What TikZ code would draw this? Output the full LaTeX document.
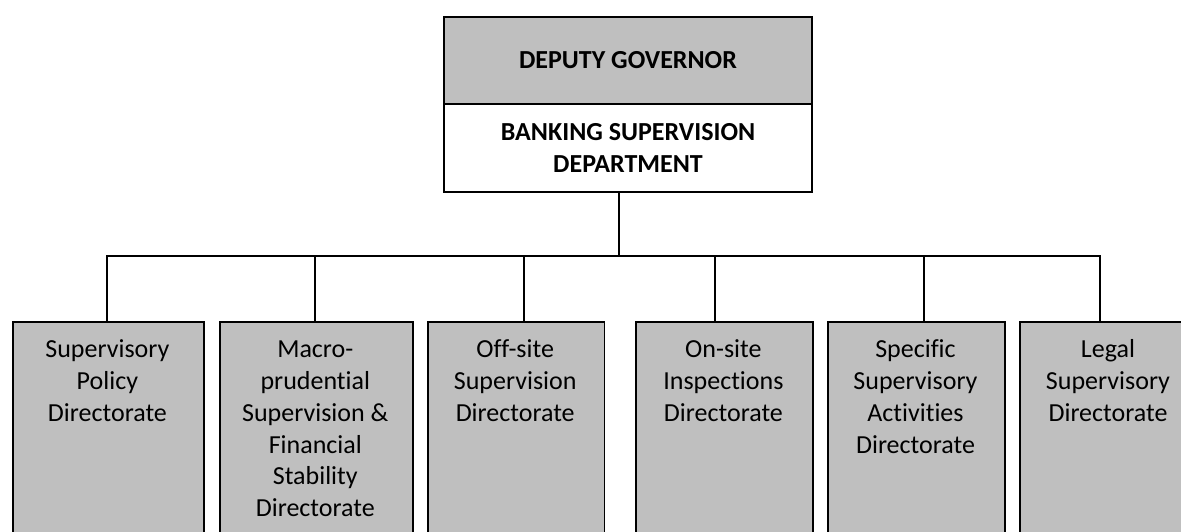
\documentclass[tikz,border=0pt]{standalone}
\usepackage{fontspec}
\setmainfont{Carlito}[Ligatures={NoCommon},RawFeature={-liga;-clig;-dlig}]
\definecolor{boxgray}{RGB}{191,191,191}
\newcommand\dirfont{\fontsize{26}{31.7}\selectfont}
\newcommand\firstline{\rule{0pt}{20pt}}
\begin{document}
\begin{tikzpicture}[x=1pt,y=-1pt,line width=1.8pt,
  dirbox/.style={draw=black,fill=boxgray,rectangle,inner sep=0pt,anchor=north west,minimum height=240pt},
  dirlabel/.style={anchor=north,inner sep=0pt,align=center,font=\dirfont},
  headbox/.style={draw=black,rectangle,inner sep=0pt,minimum width=368pt,align=center,font=\dirfont\bfseries}]
\useasboundingbox (0,0) rectangle (1181,532);
\clip (0,0) rectangle (1181,532);
% top box
\node[headbox,fill=boxgray,minimum height=87.3pt] (gov) at (628,60.5) {DEPUTY GOVERNOR};
\node[headbox,fill=white,minimum height=87.7pt] (dept) at (628,147.8) {BANKING SUPERVISION\\DEPARTMENT};
% directorate boxes
\node[dirbox,minimum width=191.3pt] (b1) at (11.7,320.7) {};
\node[dirbox,minimum width=192.7pt] (b2) at (219,320.7) {};
\node[dirbox,minimum width=176.5pt] (b3) at (427,320.7) {};
\node[dirbox,minimum width=176.7pt] (b4) at (635,320.7) {};
\node[dirbox,minimum width=177pt] (b5) at (827,320.7) {};
\node[dirbox,minimum width=178pt] (b6) at (1019,320.7) {};
% labels
\node[dirlabel] (t1) at (107.4,337) {\firstline Supervisory\\Policy\\Directorate};
\node[dirlabel] (t2) at (315.3,337) {\firstline Macro-\\prudential\\Supervision \&\\Financial\\Stability\\Directorate};
\node[dirlabel] (t3) at (515.2,337) {\firstline Off-site\\Supervision\\Directorate};
\node[dirlabel] (t4) at (723.4,337) {\firstline On-site\\Inspections\\Directorate};
\node[dirlabel] (t5) at (915.5,337) {\firstline Specific\\Supervisory\\Activities\\Directorate};
\node[dirlabel] (t6) at (1108,337) {\firstline Legal\\Supervisory\\Directorate};
% connectors
\coordinate (bus) at (619.3,256);
\coordinate (j1) at (107,256);
\coordinate (j2) at (315,256);
\coordinate (j3) at (524,256);
\coordinate (j4) at (715,256);
\coordinate (j5) at (923.7,256);
\coordinate (j6) at (1100,256);
\draw (dept.south -| bus) -- (bus);
\draw (j1 |- b1.north) -- (j1) -- (j6) -- (j6 |- b6.north);
\foreach \i in {2,3,4,5}{\draw (j\i) -- (j\i |- b\i.north);}
\end{tikzpicture}
\end{document}
